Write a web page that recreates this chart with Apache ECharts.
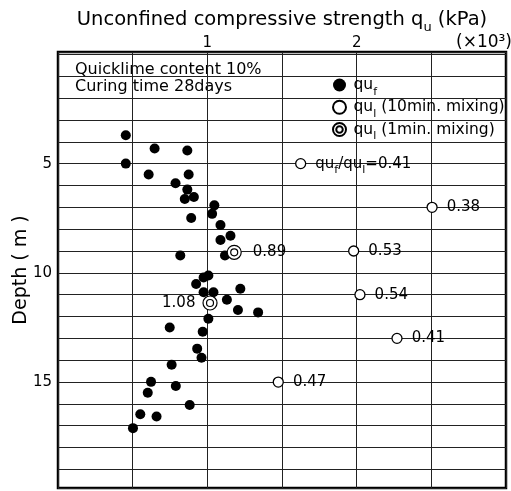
<!DOCTYPE html>
<html>
<head>
<meta charset="utf-8">
<script src="https://cdn.jsdelivr.net/npm/echarts@6/dist/echarts.min.js"></script>
<style>
  html, body { margin: 0; padding: 0; background: #fff; }
  #chart { width: 511px; height: 491px; }
</style>
</head>
<body>
<div id="chart"></div>
<script>
// qu_f (filled dots): strength in x10^3 kPa, depth in m
const qufStrength = [0.454, 0.647, 0.866, 0.454, 0.607, 0.875, 0.787, 0.866, 0.849, 0.910,
                     1.047, 1.032, 0.892, 1.088, 1.155, 1.088, 1.118, 0.819, 1.007, 0.975,
                     0.925, 0.975, 1.041, 1.221, 1.131, 1.205, 1.340, 1.007, 0.748, 0.969,
                     0.932, 0.961, 0.761, 0.623, 0.601, 0.789, 0.882, 0.551, 0.660, 0.502];
const qufDepth = [3.70, 4.31, 4.40, 5.00, 5.50, 5.50, 5.90, 6.19, 6.62, 6.53,
                  6.91, 7.30, 7.49, 7.81, 8.30, 8.50, 9.21, 9.21, 10.12, 10.21,
                  10.51, 10.89, 10.89, 10.73, 11.23, 11.70, 11.81, 12.10, 12.50, 12.70,
                  13.47, 13.89, 14.21, 14.99, 15.49, 15.18, 16.05, 16.47, 16.58, 17.11];

// qu_l, 10 min. mixing (open circles)
const qul10Strength = [1.625, 2.505, 1.98, 2.022, 2.27, 1.475];
const qul10Depth = [5, 7, 9, 11, 13, 15];
const qul10Ratio = ['0.41', '0.38', '0.53', '0.54', '0.41', '0.47'];

// qu_l, 1 min. mixing (double circles)
const qul1Strength = [1.18, 1.018];
const qul1Depth = [9.06, 11.38];
const qul1Ratio = ['0.89', '1.08'];

const xTickLabels = [1, 2];
const yTickLabels = [5, 10, 15];

const FONT = 'DejaVu Sans, sans-serif';

var chart = echarts.init(document.getElementById('chart'));

const pairs = (xs, ys) => xs.map((x, i) => [x, ys[i]]);

const ringPath = 'path://M0,-10A10,10,0,1,1,0,10A10,10,0,1,1,0,-10Z' +
                 'M0,-5A5,5,0,1,1,0,5A5,5,0,1,1,0,-5Z';

const legendNames = {
  quf: '{a|qu}{s|f}',
  qul10: '{a|qu}{s|l}{a| (10min. mixing)}',
  qul1: '{a|qu}{s|l}{a| (1min. mixing)}'
};

const sub = (size, big) => ({
  a: { fontSize: big, fontFamily: FONT, color: '#000', lineHeight: big + 3 },
  s: { fontSize: size, fontFamily: FONT, color: '#000', verticalAlign: 'bottom', lineHeight: size + 1, padding: [0, 0, -3, 0] }
});

const option = {
  animation: false,
  backgroundColor: '#fff',
  textStyle: { fontFamily: FONT },
  grid: {
    left: 58, right: 5, top: 52, bottom: 3,
    containLabel: false,
    outerBoundsMode: 'none',
    show: true, borderColor: '#000', borderWidth: 2.5
  },
  xAxis: {
    type: 'value',
    position: 'top',
    min: 0, max: 3, interval: 0.5,
    axisLine: { show: false },
    axisTick: { show: false },
    axisLabel: {
      margin: 1, fontSize: 15, color: '#000', fontFamily: FONT,
      formatter: v => (xTickLabels.indexOf(v) >= 0 ? String(v) : '')
    },
    splitLine: { lineStyle: { color: '#222', width: 1 } },
    name: '{a|Unconfined compressive strength q}{s|u}{a| (kPa)}',
    nameLocation: 'middle',
    nameGap: 21,
    nameMoveOverlap: false,
    nameTextStyle: { rich: sub(13, 19.5) }
  },
  yAxis: {
    type: 'value',
    inverse: true,
    min: -0.11, max: 19.85,
    splitNumber: 20,
    axisLine: { show: false },
    axisTick: { show: false },
    axisLabel: {
      margin: 6, fontSize: 15, color: '#000', fontFamily: FONT,
      formatter: v => (yTickLabels.indexOf(v) >= 0 ? String(v) : '')
    },
    splitLine: { lineStyle: { color: '#222', width: 1 } },
    name: 'Depth ( m )',
    nameLocation: 'middle',
    nameRotate: 90,
    nameGap: 27,
    nameMoveOverlap: false,
    nameTextStyle: { fontSize: 19, color: '#000', fontFamily: FONT }
  },
  legend: {
    orient: 'vertical',
    left: 327, top: 72,
    itemGap: 2,
    itemWidth: 14, itemHeight: 13,
    data: ['quf', 'qul10', 'qul1'],
    formatter: name => legendNames[name],
    textStyle: { rich: sub(11, 15.5), padding: [0, 0, 0, 2] }
  },
  graphic: [
    { type: 'text', left: 75, top: 62, style: { text: 'Quicklime content 10%', fontSize: 16, fontFamily: FONT, fill: '#000' } },
    { type: 'text', left: 75, top: 79, style: { text: 'Curing time 28days', fontSize: 16, fontFamily: FONT, fill: '#000' } },
    { type: 'text', left: 456, top: 34, style: { text: '(\u00d710\u00b3)', fontSize: 17, fontFamily: FONT, fill: '#000' } }
  ],
  series: [
    {
      name: 'quf',
      type: 'scatter',
      symbol: 'circle',
      symbolSize: 10,
      itemStyle: { color: '#000', opacity: 1 },
      data: pairs(qufStrength, qufDepth),
      z: 3
    },
    {
      name: 'qul10',
      type: 'scatter',
      symbol: 'circle',
      symbolSize: 10,
      itemStyle: { color: '#fff', borderColor: '#000', borderWidth: 1.3, opacity: 1 },
      label: {
        show: true, position: 'right', distance: 9,
        fontSize: 15, color: '#000', fontFamily: FONT,
        formatter: p => p.dataIndex === 0
          ? '{a|qu}{s|f}{a|/qu}{s|l}{a|=' + qul10Ratio[0] + '}'
          : qul10Ratio[p.dataIndex],
        rich: sub(11, 15)
      },
      data: pairs(qul10Strength, qul10Depth),
      z: 4
    },
    {
      name: 'qul1',
      type: 'scatter',
      symbol: ringPath,
      symbolSize: 14,
      itemStyle: { color: '#fff', borderColor: '#000', borderWidth: 1.2, opacity: 1 },
      label: {
        show: true, fontSize: 15, color: '#000', fontFamily: FONT,
        formatter: p => qul1Ratio[p.dataIndex]
      },
      data: pairs(qul1Strength, qul1Depth).map((v, i) => ({
        value: v,
        label: i === 0 ? { position: 'right', distance: 11 } : { position: 'left', distance: 7 }
      })),
      z: 5
    }
  ]
};

chart.setOption(option);
</script>
</body>
</html>
